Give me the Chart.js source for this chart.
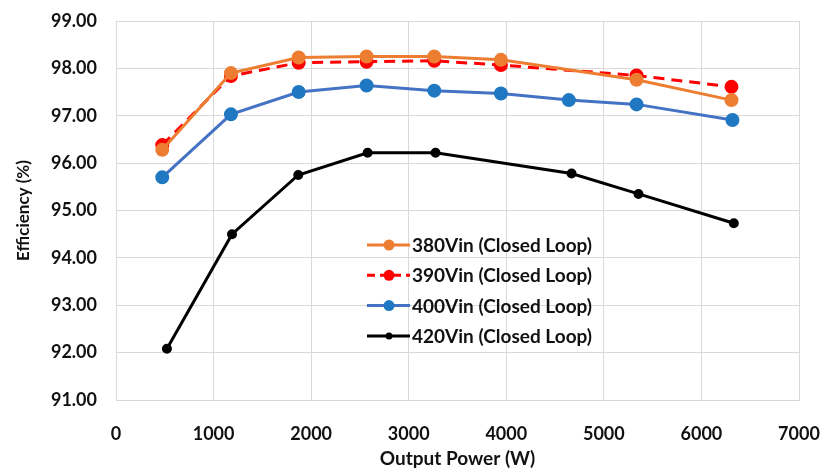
<!DOCTYPE html>
<html>
<head>
<meta charset="utf-8">
<script src="https://cdn.jsdelivr.net/npm/chart.js@4.4.1/dist/chart.umd.min.js"></script>
<style>
  html, body { margin: 0; padding: 0; background: #fff; overflow: hidden; }
  #wrap { width: 821px; height: 469px; }
</style>
</head>
<body>
<div id="wrap"><canvas id="effChart"></canvas></div>
<script>
// values
const power380 = [474, 1178, 1872, 2568, 3262, 3945, 5335, 6308];
const eff380 = [96.28, 97.90, 98.23, 98.25, 98.25, 98.18, 97.76, 97.33];

const power390 = [474, 1178, 1872, 2568, 3262, 3945, 5335, 6308];
const eff390 = [96.38, 97.84, 98.12, 98.14, 98.16, 98.07, 97.85, 97.61];

const power400 = [474, 1178, 1872, 2568, 3262, 3945, 4641, 5335, 6318];
const eff400 = [95.70, 97.03, 97.50, 97.64, 97.53, 97.47, 97.33, 97.24, 96.91];

const power420 = [522, 1189, 1868, 2579, 3275, 4669, 5355, 6332];
const eff420 = [92.08, 94.50, 95.75, 96.22, 96.22, 95.78, 95.35, 94.73];

const seriesNames = ["380Vin (Closed Loop)", "390Vin (Closed Loop)", "400Vin (Closed Loop)", "420Vin (Closed Loop)"];
const xTicks = [0, 1000, 2000, 3000, 4000, 5000, 6000, 7000];
const yMin = 91, yMax = 99;

function pts(xs, ys) {
  return xs.map((x, i) => ({ x: x, y: ys[i] }));
}

const FONT = "Lato, 'Liberation Sans', sans-serif";
const TEXT = "#111";

const data = {
  datasets: [
    {
      label: seriesNames[0],
      data: pts(power380, eff380),
      borderColor: "#ED7D31",
      backgroundColor: "#ED7D31",
      borderWidth: 3,
      pointRadius: 5.5,
    },
    {
      label: seriesNames[1],
      data: pts(power390, eff390),
      borderColor: "#FF0000",
      backgroundColor: "#FF0000",
      borderWidth: 3,
      borderDash: [11, 7],
      pointRadius: 5.5,
    },
    {
      label: seriesNames[2],
      data: pts(power400, eff400),
      borderColor: "#4472C4",
      backgroundColor: "#1F78C1",
      pointBorderColor: "#1F78C1",
      borderWidth: 3,
      pointRadius: 5.5,
    },
    {
      label: seriesNames[3],
      data: pts(power420, eff420),
      borderColor: "#000000",
      backgroundColor: "#000000",
      borderWidth: 3,
      pointRadius: 3.5,
    },
  ],
};

// legend drawn inside the plot area, line + marker like the original
const insideLegend = {
  id: "insideLegend",
  afterDatasetsDraw(chart) {
    const ctx = chart.ctx;
    const area = chart.chartArea;
    const x0 = area.left + 251;
    const y0 = area.top + 224;
    ctx.save();
    chart.data.datasets.forEach((ds, i) => {
      const y = y0 + i * 30.3;
      ctx.strokeStyle = ds.borderColor;
      ctx.lineWidth = ds.borderWidth;
      ctx.setLineDash(ds.borderDash ? [8, 5] : []);
      ctx.beginPath();
      ctx.moveTo(x0, y);
      ctx.lineTo(x0 + 43, y);
      ctx.stroke();
      ctx.setLineDash([]);
      ctx.fillStyle = ds.pointBorderColor || ds.backgroundColor;
      ctx.beginPath();
      ctx.arc(x0 + 22, y, ds.pointRadius, 0, Math.PI * 2);
      ctx.fill();
      ctx.fillStyle = TEXT;
      ctx.font = "bold 19px " + FONT;
      ctx.textBaseline = "middle";
      ctx.fillText(ds.label, x0 + 45, y + 1);
    });
    ctx.restore();
  },
};

const config = {
  type: "line",
  data: data,
  options: {
    responsive: true,
    maintainAspectRatio: false,
    animation: false,
    layout: { padding: { left: 0, right: 22, top: 21, bottom: 0 } },
    plugins: {
      legend: { display: false },
      tooltip: { enabled: false },
    },
    scales: {
      x: {
        type: "linear",
        min: 0,
        max: 7000,
        afterBuildTicks: (axis) => { axis.ticks = xTicks.map((v) => ({ value: v })); },
        afterFit: (axis) => {
          axis.height = 69;
          axis.paddingLeft = 0;
          axis.paddingRight = 0;
        },
        grid: { color: "#D9D9D9", lineWidth: 1, drawTicks: false },
        border: { color: "#D9D9D9" },
        ticks: {
          color: TEXT,
          padding: 23,
          maxRotation: 0,
          font: { family: FONT, size: 18, weight: "bold" },
          callback: (v) => String(v),
        },
        title: {
          display: true,
          text: "Output Power (W)",
          color: TEXT,
          padding: { top: 0, bottom: -1 },
          font: { family: FONT, size: 19, weight: "bold" },
        },
      },
      y: {
        min: yMin,
        max: yMax,
        afterFit: (axis) => {
          axis.width = 116;
          axis.paddingTop = 0;
          axis.paddingBottom = 0;
        },
        grid: { color: "#D9D9D9", lineWidth: 1, drawTicks: false },
        border: { color: "#D9D9D9" },
        ticks: {
          stepSize: 1,
          color: TEXT,
          padding: 19,
          font: { family: FONT, size: 18, weight: "bold" },
          callback: (v) => v.toFixed(2),
        },
        title: {
          display: true,
          text: "Efficiency (%)",
          color: TEXT,
          padding: { top: 13, bottom: 0 },
          font: { family: FONT, size: 17, weight: "bold" },
        },
      },
    },
  },
  plugins: [insideLegend],
};

const ctx = document.getElementById("effChart").getContext("2d");
const effChart = new Chart(ctx, config);
</script>
</body>
</html>
